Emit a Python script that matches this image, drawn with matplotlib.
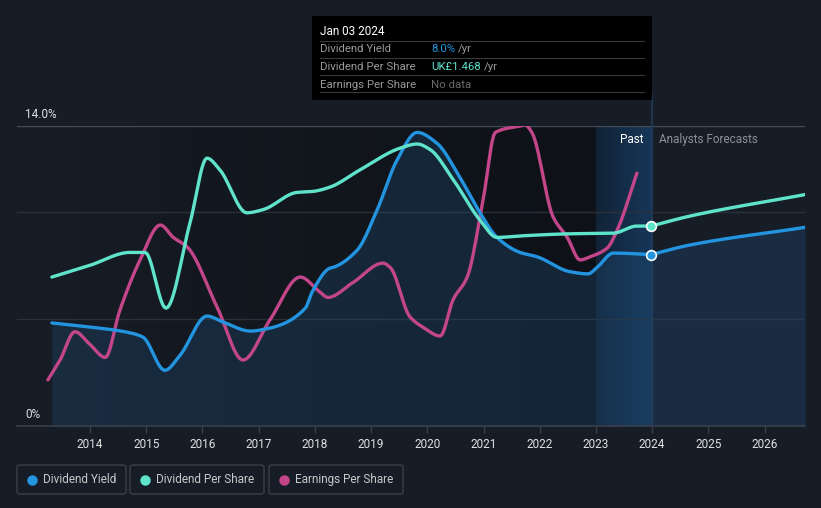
import numpy as np
import matplotlib
matplotlib.use("Agg")
import matplotlib.pyplot as plt
from matplotlib.patches import FancyBboxPatch, Rectangle
from matplotlib.lines import Line2D
from matplotlib.colors import LinearSegmentedColormap

# ---------------- data (years, % scale) ----------------
dy_years = [2013.32, 2014.0, 2014.71, 2014.94, 2015.33, 2015.60, 2016.08, 2016.37, 2016.85,
            2017.20, 2017.83, 2017.95, 2018.27, 2018.32, 2018.75, 2019.11, 2019.46, 2019.82,
            2020.17, 2020.58, 2020.94, 2021.24, 2021.65, 2021.95, 2022.54, 2022.86, 2023.02,
            2023.31, 2023.98]
dy_vals = [4.81, 4.62, 4.35, 4.15, 2.6, 3.3, 5.13, 4.85, 4.43,
           4.57, 5.5, 6.25, 7.37, 7.4, 8.2, 10.1, 12.4, 13.7,
           13.2, 11.6, 9.94, 8.8, 8.1, 7.9, 7.2, 7.1, 7.4,
           8.07, 8.0]
dy_fc_years = [2023.98, 2024.68, 2026.72]
dy_fc_vals = [8.0, 8.45, 9.27]

dps_years = [2013.32, 2014.0, 2014.71, 2014.98, 2015.35, 2015.78, 2016.08, 2016.31, 2016.79,
             2017.08, 2017.68, 2017.97, 2018.27, 2018.80, 2019.52, 2019.82, 2020.05, 2020.46,
             2020.94, 2021.24, 2021.65, 2022.54, 2023.31, 2023.73, 2023.98]
dps_vals = [6.95, 7.5, 8.1, 8.1, 5.5, 9.5, 12.5, 11.95, 9.95,
            10.1, 10.9, 10.95, 11.15, 11.95, 12.97, 13.16, 12.9, 11.5,
            9.6, 8.8, 8.87, 8.97, 9.0, 9.33, 9.33]
dps_fc_years = [2023.98, 2024.68, 2026.72]
dps_fc_vals = [9.33, 9.8, 10.8]

eps_years = [2013.25, 2013.47, 2013.73, 2014.0, 2014.27, 2014.53, 2014.89, 2015.25, 2015.48,
             2015.73, 2016.26, 2016.72, 2017.20, 2017.74, 2018.09, 2018.23, 2018.68, 2019.21,
             2019.34, 2019.69, 2019.93, 2020.23, 2020.46, 2020.71, 2020.99, 2021.21, 2021.65,
             2021.74, 2021.86, 2022.24, 2022.49, 2022.72, 2022.90, 2023.20, 2023.38, 2023.73]
eps_vals = [2.15, 3.1, 4.4, 3.8, 3.2, 5.4, 7.75, 9.38, 8.8,
            8.35, 5.55, 3.08, 4.95, 6.95, 6.25, 6.0, 6.7, 7.6,
            7.4, 5.1, 4.6, 4.2, 5.9, 6.95, 10.5, 13.7, 14.0,
            14.05, 13.7, 9.75, 8.8, 7.75, 7.9, 8.3, 9.15, 11.8]

tick_years = list(range(2014, 2027))
tick_labels = [str(y) for y in tick_years]
legend_labels = ["Dividend Yield", "Dividend Per Share", "Earnings Per Share"]

# ---------------- style ----------------
BG = "#171d27"
DARK = "#0e1218"
C_DY = "#2394df"
C_DPS = "#5fe3cb"
C_EPS = "#c4468a"
GRID = "#2a3039"


def pchip(x, y, n=400):
    x = np.asarray(x, float)
    y = np.asarray(y, float)
    h = np.diff(x)
    d = np.diff(y) / h
    m = np.zeros_like(y)
    for k in range(1, len(y) - 1):
        if d[k - 1] * d[k] <= 0:
            m[k] = 0
        else:
            w1 = 2 * h[k] + h[k - 1]
            w2 = h[k] + 2 * h[k - 1]
            m[k] = (w1 + w2) / (w1 / d[k - 1] + w2 / d[k])
    m[0] = d[0]
    m[-1] = d[-1]
    xs = np.linspace(x[0], x[-1], n)
    idx = np.clip(np.searchsorted(x, xs) - 1, 0, len(h) - 1)
    t = (xs - x[idx]) / h[idx]
    h00 = 2 * t**3 - 3 * t**2 + 1
    h10 = t**3 - 2 * t**2 + t
    h01 = -2 * t**3 + 3 * t**2
    h11 = t**3 - t**2
    ys = h00 * y[idx] + h10 * h[idx] * m[idx] + h01 * y[idx + 1] + h11 * h[idx] * m[idx + 1]
    return xs, ys


fig = plt.figure(figsize=(8.21, 5.08), dpi=100, facecolor=BG)
ax = fig.add_axes([17 / 821, 1 - 426 / 508, (805 - 17) / 821, (426 - 126) / 508])
ax.set_facecolor(BG)
x0, x1 = 2012.70, 2026.72
ax.set_xlim(x0, x1)
ax.set_ylim(0, 14)

# darker past region (gradient from background to dark)
grad = np.linspace(0, 1, 256).reshape(1, -1)
cm_dark = LinearSegmentedColormap.from_list("d", [BG, "#12161d", DARK])
ax.imshow(grad, extent=[x0, 2023.0, 0, 14], aspect="auto", cmap=cm_dark, zorder=0)
# past-forecast gradient region
cm = LinearSegmentedColormap.from_list("g", ["#122336", "#16375a"])
ax.imshow(grad, extent=[2023.0, 2024.0, 0, 14], aspect="auto", cmap=cm, zorder=0.5)

# grid
for gy, gc in [(5, GRID), (10, GRID), (14, "#454b55")]:
    ax.axhline(gy, color=gc, lw=1, zorder=1)

# series
xs, ys = pchip(dy_years, dy_vals)
xf, yf = pchip(dy_fc_years, dy_fc_vals, 100)
ax.fill_between(np.r_[xs, xf], np.r_[ys, yf], 0, color="#1f4a72", alpha=0.35, lw=0, zorder=1.5)
ax.plot(xs, ys, color=C_DY, lw=2.4, zorder=3, solid_capstyle="round")
ax.plot(xf, yf, color=C_DY, lw=2.4, zorder=3, solid_capstyle="round")

xs, ys = pchip(dps_years, dps_vals)
ax.plot(xs, ys, color=C_DPS, lw=2.4, zorder=3, solid_capstyle="round")
xf, yf = pchip(dps_fc_years, dps_fc_vals, 100)
ax.plot(xf, yf, color=C_DPS, lw=2.4, zorder=3, solid_capstyle="round")

xs, ys = pchip(eps_years, eps_vals)
ax.plot(xs, ys, color=C_EPS, lw=2.4, zorder=2.5, solid_capstyle="round")

# hover markers
ax.plot([2023.98], [dy_fc_vals[0]], "o", ms=7, mfc=C_DY, mec="white", mew=1.2, zorder=5)
ax.plot([2023.98], [dps_fc_vals[0]], "o", ms=7, mfc=C_DPS, mec="white", mew=1.2, zorder=5)

# vertical hover line
ax.plot([2024.0, 2024.0], [0, 15.5], color="#223a55", lw=1.2, zorder=1.2, clip_on=False)

# axes styling
for s in ["top", "right", "left"]:
    ax.spines[s].set_visible(False)
ax.spines["bottom"].set_color("#3a404a")
ax.spines["bottom"].set_linewidth(1.2)
ax.set_yticks([])
ax.set_xticks(tick_years)
ax.set_xticklabels(tick_labels, color="#e0e0e0", fontsize=8.5, family="Roboto")
ax.tick_params(axis="x", colors="#3a404a", length=5, width=1, pad=4, labelcolor="#e0e0e0")

ax.text(2012.85, 14.25, "14.0%", color="#e0e0e0", fontsize=8.5, family="Roboto",
        va="bottom", ha="left")
ax.text(2012.85, 0.25, "0%", color="#e0e0e0", fontsize=8.5, family="Roboto", va="bottom", ha="left")

ax.text(2023.85, 13.35, "Past", color="white", fontsize=8.5, family="Roboto", ha="right", va="center")
ax.text(2024.13, 13.35, "Analysts Forecasts", color="#8a8f98", fontsize=8.5, family="Roboto",
        ha="left", va="center")

# tooltip
def fx(px):
    return px / 821

def fy(py):
    return 1 - py / 508

fig.patches.append(Rectangle((fx(312), fy(100)), fx(652) - fx(312), fy(16) - fy(100),
                             transform=fig.transFigure, facecolor="#000000", edgecolor="none", zorder=10))
fig.text(fx(320), fy(31.5), "Jan 03 2024", color="white", fontsize=8.5, family="Roboto",
         va="center", ha="left", zorder=11)
for ly in [41, 58, 75, 92]:
    fig.add_artist(Line2D([fx(320), fx(644)], [fy(ly), fy(ly)], color="#3a3a3a", lw=0.8, zorder=11))
rows = [("Dividend Yield", "8.0%", C_DY), ("Dividend Per Share", "UK£1.468", C_DPS),
        ("Earnings Per Share", "No data", "#6a6a6a")]
for i, (lab, val, col) in enumerate(rows):
    yy = fy(49.5 + 17.5 * i)
    fig.text(fx(320), yy, lab, color="#9a9a9a", fontsize=8.2, family="Roboto", va="center", zorder=11)
    t = fig.text(fx(431), yy, val, color=col, fontsize=8.2, family="Roboto", va="center", zorder=11)
    if i < 2:
        fig.canvas.draw()
        bb = t.get_window_extent()
        fig.text(bb.x1 / 821 + 3 / 821, yy, "/yr", color="#9a9a9a", fontsize=8.2, family="Roboto",
                 va="center", zorder=11)

# legend boxes
boxes = [(17, 126), (130, 264), (269, 403)]
cols = [C_DY, C_DPS, C_EPS]
for (bx0, bx1), lab, col in zip(boxes, legend_labels, cols):
    fig.patches.append(FancyBboxPatch((fx(bx0), fy(494)), fx(bx1) - fx(bx0), fy(465) - fy(494),
                                      boxstyle="round,pad=0,rounding_size=0.004",
                                      transform=fig.transFigure, facecolor="none",
                                      edgecolor="#3a3f48", lw=1))
    fig.add_artist(Line2D([fx(bx0 + 15)], [fy(479.5)], marker="o", ms=6.5, color=col, lw=0))
    fig.text(fx(bx0 + 26), fy(479.5), lab, color="#c8c8c8", fontsize=8.5, family="Roboto",
             va="center", ha="left")

fig.savefig("out.png", dpi=100, facecolor=BG)
